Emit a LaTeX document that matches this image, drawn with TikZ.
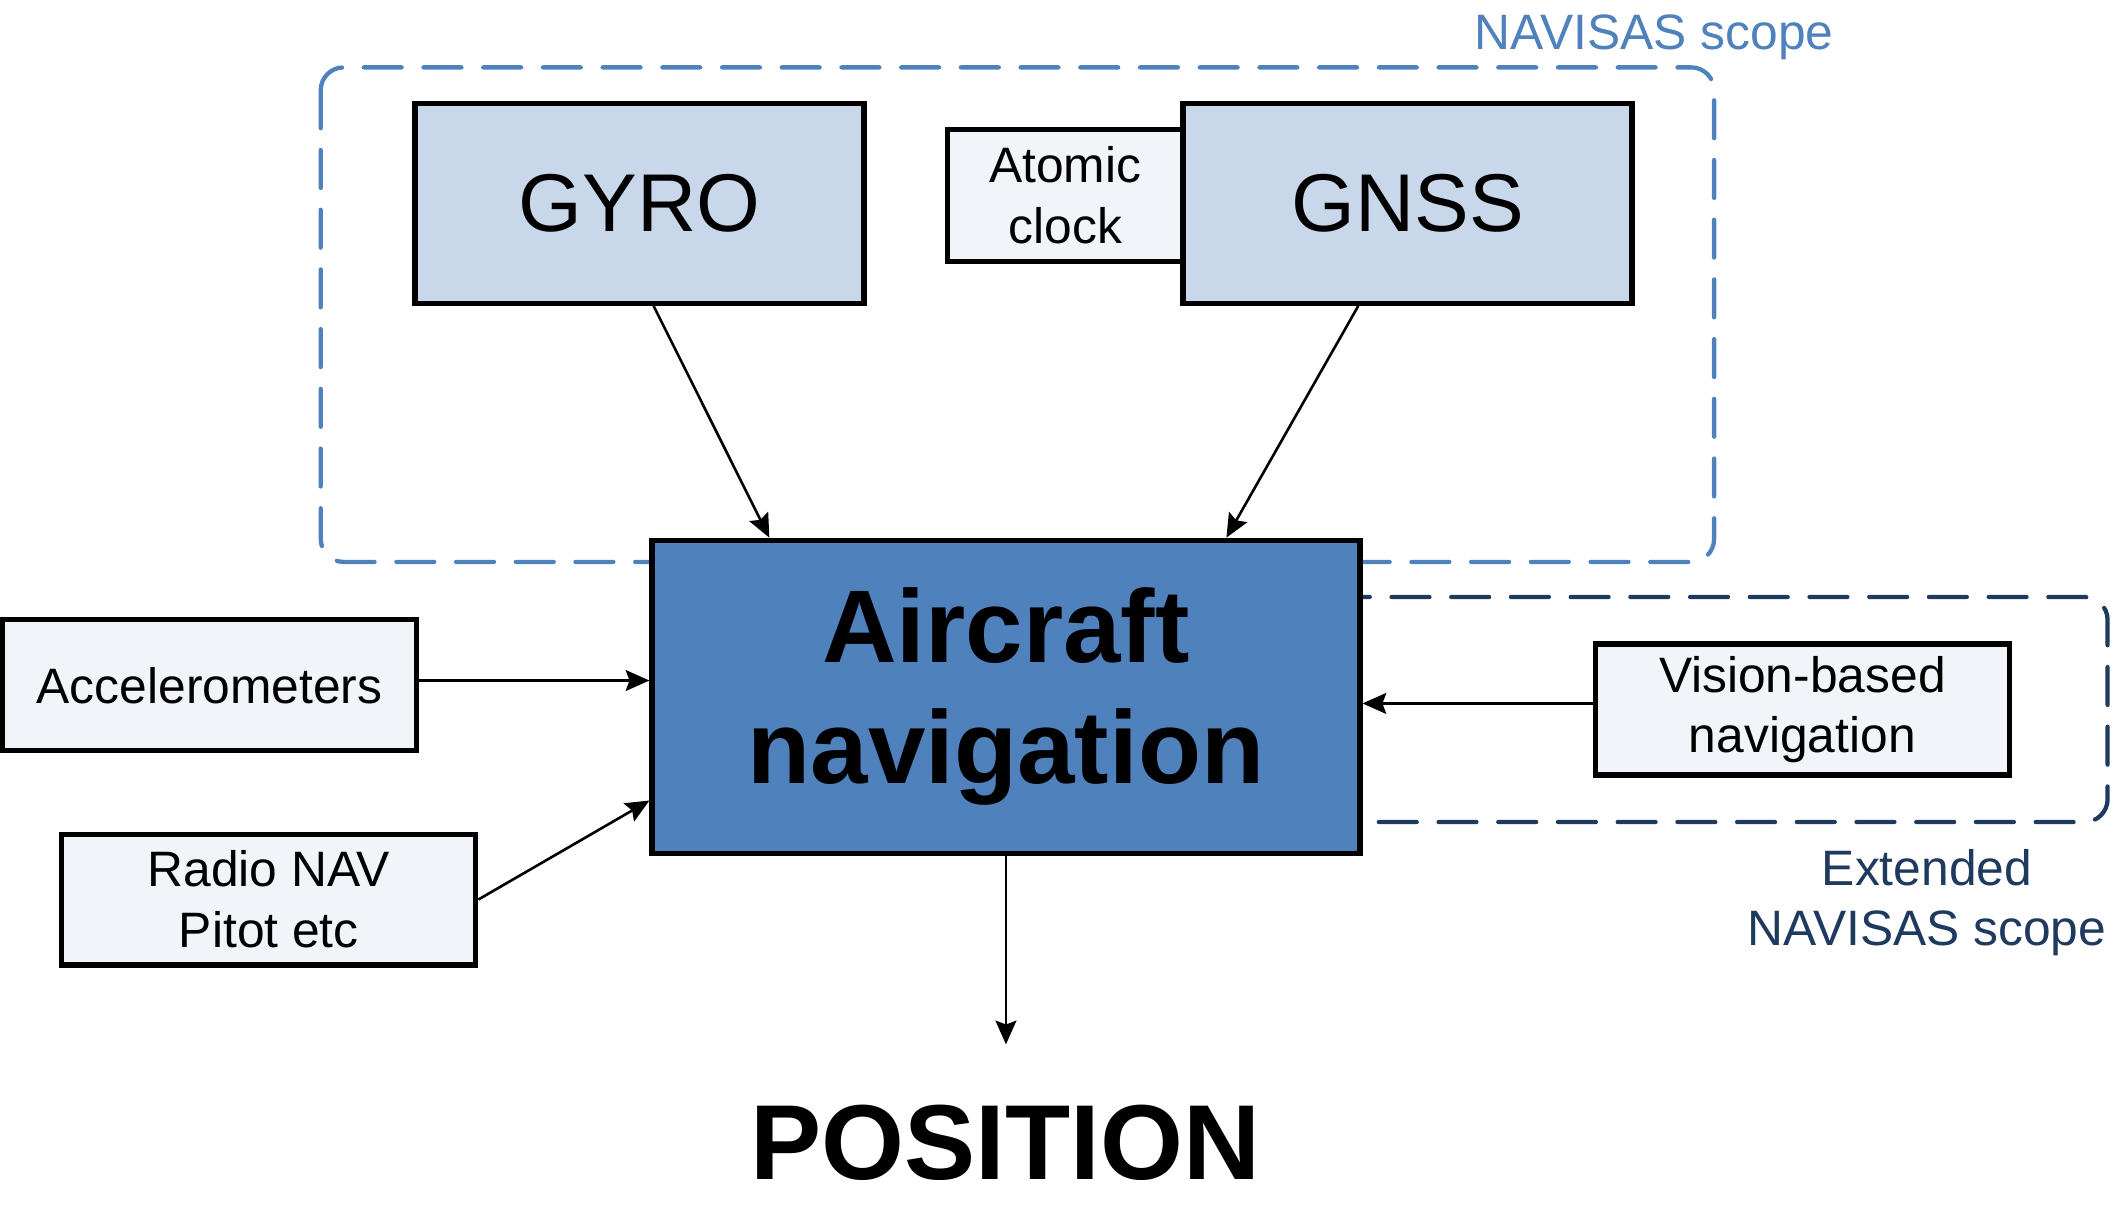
\documentclass[tikz,border=0pt]{standalone}
\usepackage{fontspec}
\setmainfont{Liberation Sans}
\usetikzlibrary{arrows.meta}
\definecolor{scopeblue}{HTML}{4F81BD}
\definecolor{extblue}{HTML}{1F3A5F}
\definecolor{navfill}{HTML}{4F81BD}
\definecolor{sensfill}{HTML}{C9D7EA}
\definecolor{smallfill}{HTML}{F1F5FA}
\begin{document}
\begin{tikzpicture}[x=0.01cm,y=-0.01cm,
  box/.style={draw=black, line width=1.1pt, inner sep=0pt, align=center},
  bigbox/.style={box, fill=sensfill, minimum width=3.33cm, minimum height=1.48cm, font=\fontsize{17.3}{20}\selectfont},
  smallbox/.style={box, fill=smallfill, minimum width=3.07cm, minimum height=0.97cm, font=\fontsize{10.5}{12.8}\selectfont},
  conn/.style={line width=0.55pt, -{Stealth[length=5pt,width=4.4pt,inset=0.8pt]}},
  scopebox/.style={dash pattern=on 8pt off 4.6pt, line width=0.9pt, line cap=round, rounded corners=0.17cm}]
\useasboundingbox (0,0) rectangle (1568,900);
\draw[scopebox, draw=scopeblue] (238,50) rectangle (1272,417);
\draw[scopebox, draw=extblue] (900,443) rectangle (1564,610);
\node[bigbox] (gyro) at (474.5,151) {GYRO};
\node[box, fill=smallfill, minimum width=1.75cm, minimum height=0.98cm, font=\fontsize{10.5}{12.8}\selectfont] (clock) at (790.5,145) {Atomic\\clock};
\node[bigbox] (gnss) at (1044.5,151) {GNSS};
\node[box, fill=navfill, minimum width=5.25cm, minimum height=2.32cm, font=\bfseries\fontsize{21.8}{25.6}\selectfont] (air) at (746.5,517) {Aircraft\\navigation};
\node[smallbox] (acc) at (155.5,508.5) {Accelerometers};
\node[smallbox] (radio) at (199.5,667.5) {Radio NAV\\Pitot etc};
\node[smallbox] (vision) at (1337.5,526.5) {Vision-based\\navigation};
\node[text=scopeblue, font=\fontsize{10.5}{12.8}\selectfont] (scopelbl) at (1227.5,28) {NAVISAS scope};
\node[text=extblue, align=center, font=\fontsize{10.5}{12.6}\selectfont] (extlbl) at (1430,670) {Extended\\NAVISAS scope};
\node[font=\bfseries\fontsize{22.5}{26}\selectfont] (pos) at (746,848) {POSITION};
\coordinate (out) at (746.5,775);
\draw[conn] ([xshift=0.105cm]gyro.south) -- ([xshift=-1.755cm]air.north);
\draw[conn] ([xshift=-0.365cm]gnss.south) -- ([xshift=1.635cm]air.north);
\draw[conn] ([yshift=0.035cm]acc.east) -- ([yshift=0.035cm]acc.east -| air.west);
\draw[conn] (radio.east) -- ([yshift=-0.77cm]air.west);
\draw[conn] ([yshift=0.045cm]vision.west) -- ([yshift=0.045cm]vision.west -| air.east);
\draw[conn] (air.south) -- (out);
\end{tikzpicture}
\end{document}
